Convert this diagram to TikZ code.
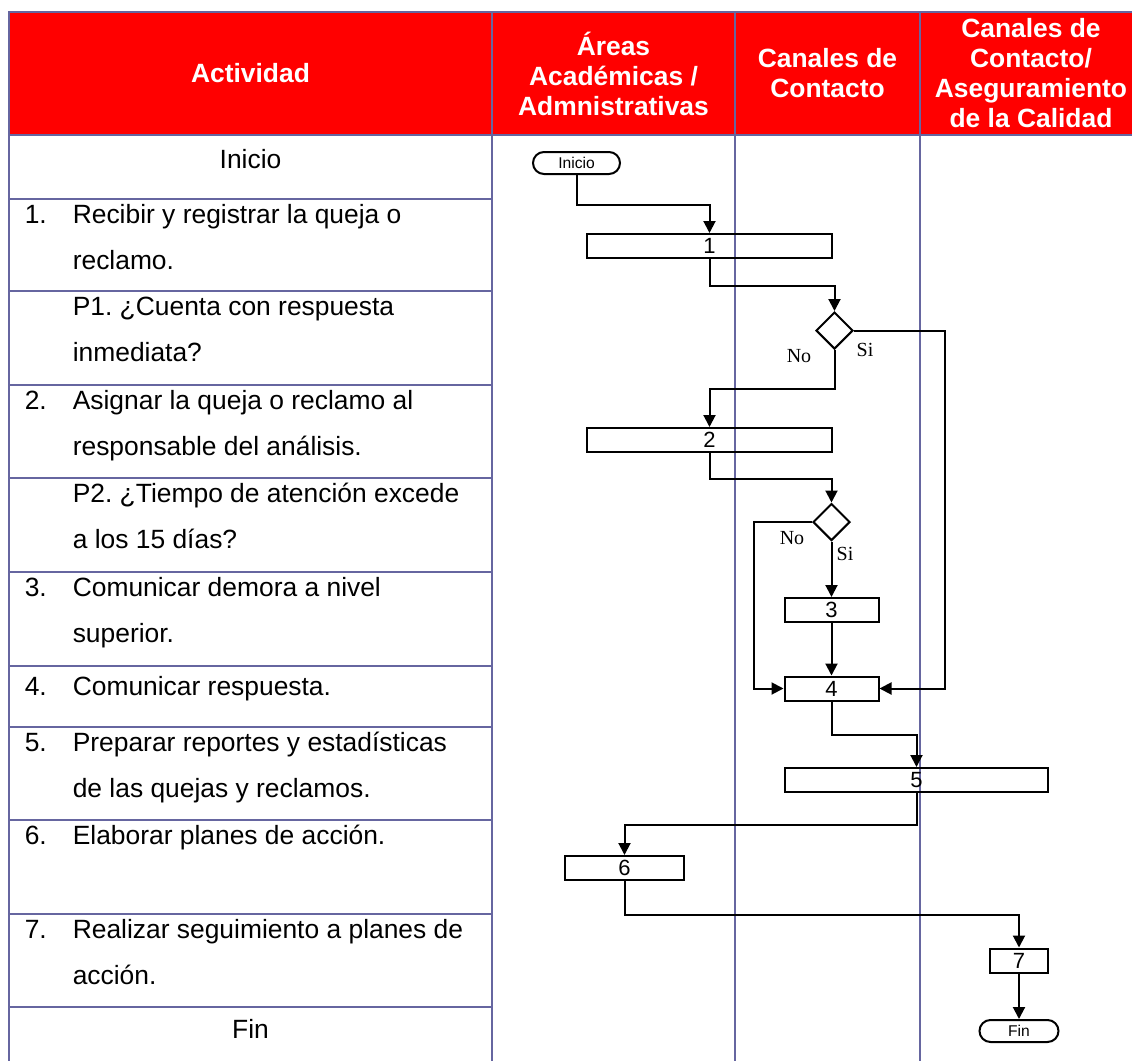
\documentclass[tikz,border=0pt]{standalone}
\usepackage{fontspec}
\setmainfont{Liberation Sans}
\newfontfamily\serifont{Liberation Serif}
\usetikzlibrary{arrows.meta,positioning,shapes.geometric}

\definecolor{rejilla}{RGB}{102,102,160}
\definecolor{rojo}{RGB}{255,0,0}

\tikzset{
  caja/.style={draw, line width=1pt, inner sep=0pt, minimum height=12pt, font=\fontsize{11}{12}\selectfont},
  term/.style={caja, rounded corners=5.5pt, minimum height=11pt, font=\fontsize{7.8}{9}\selectfont},
  rombo/.style={draw, diamond, line width=1pt, inner sep=0pt, minimum width=18.5pt, minimum height=18.5pt},
  flecha/.style={-{Triangle[length=6pt,width=6pt]}, line width=1pt},
  rama/.style={font=\serifont\fontsize{10}{12}\selectfont, inner sep=0pt},
  cabeza/.style={text=white, font=\bfseries\fontsize{13.2}{15}\selectfont, align=center},
  texto/.style={anchor=base west, inner sep=0pt, font=\fontsize{13.2}{15}\selectfont},
}

\begin{document}
\frenchspacing
\begin{tikzpicture}[x=0.5pt, y=-0.5pt, line width=0.8pt]
    \useasboundingbox (0,0) rectangle (1132,1061);
    \clip (0,0) rectangle (1132,1061);

    \def\Top{12}     % top border
    \def\Head{135}   % bottom of header
    \def\Bot{1075}   % table runs past the page
    \def\ColA{492}
    \def\ColB{735}
    \def\ColC{920}
    \def\Right{1142}

    % header
    \fill[rojo] (9,\Top) rectangle (\Right,\Head);
    \node[cabeza] (hAct) at (250.5,73.5) {Actividad};
    \node[cabeza] (hAreas) at (613.5,73.5) {Áreas\\Académicas /\\Admnistrativas};
    \node[cabeza] (hCanal) at (827.5,73.5) {Canales de\\Contacto};
    \node[cabeza] (hCal) at (1031,73.5) {Canales de\\Contacto/\\Aseguramiento\\de la Calidad};

    % grid
    \draw[rejilla] (9,\Top) rectangle (\Right,\Bot);
    \draw[rejilla] (9,\Head) -- (\Right,\Head);
    \foreach \X in {\ColA,\ColB,\ColC}
      \draw[rejilla] (\X,\Top) -- (\X,\Bot);
    \foreach \Y in {199,291,385,478,572,666,727,820,914,1007}
      \draw[rejilla] (9,\Y) -- (\ColA,\Y);

    % activity column
    \node[texto, anchor=base] (tIni) at (250.5,168) {Inicio};
    \node[texto, anchor=base] (tFin) at (250.5,1038) {Fin};
    \foreach \Y/\N in {223/1,409/2,596/3,695/4,751/5,844/6,938/7}
      \node[texto] (n\N) at (24,\Y) {\N.};
    \foreach \Y/\T [count=\i] in {223/Recibir y registrar la queja o, 269/reclamo.,
        315/P1. ¿Cuenta con respuesta, 361/inmediata?,
        409/Asignar la queja o reclamo al, 455/responsable del análisis.,
        502/P2. ¿Tiempo de atención excede, 548/a los 15 días?,
        596/Comunicar demora a nivel, 642/superior.,
        695/Comunicar respuesta.,
        751/Preparar reportes y estadísticas, 797/de las quejas y reclamos.,
        844/Elaborar planes de acción.,
        938/Realizar seguimiento a planes de, 984/acción.}
      \node[texto] (t\i) at (72,\Y) {\T};

    % flow
    \node[term, minimum width=43.5pt] (ini) at (576.5,163) {Inicio};
    \node[caja, minimum width=122.5pt] (p1) at (709.5,246) {1};
    \node[rombo] (q1) at (834.5,330.5) {};
    \node[caja, minimum width=122.5pt] (p2) at (709.5,440) {2};
    \node[rombo] (q2) at (831.5,522) {};
    \node[caja, minimum width=47pt] (p3) at (831.5,610) {3};
    \node[caja, minimum width=47pt] (p4) at (831.5,688.5) {4};
    \node[caja, minimum width=131.5pt] (p5) at (916.5,780) {5};
    \node[caja, minimum width=59.5pt] (p6) at (624.5,868) {6};
    \node[caja, minimum width=29pt] (p7) at (1019,960.5) {7};
    \node[term, minimum width=39.5pt] (fin) at (1019,1031) {Fin};

    \node[rama] (no1) at (799,356) {No};
    \node[rama] (si1) at (865,350) {Si};
    \node[rama] (no2) at (792,538) {No};
    \node[rama] (si2) at (845,554) {Si};

    \draw[flecha] (ini.south) -- ++(0,30) -| (p1.north);
    \draw[flecha] (p1.south) -- ++(0,27) -| (q1.north);
    \draw[flecha] (q1.south) -- ++(0,39) -| (p2.north);
    \draw[flecha] (q1.east) -- ++(91,0) |- (p4.east);
    \draw[flecha] (p2.south) -- ++(0,26) -| (q2.north);
    \draw[flecha] (q2.west) -- ++(-58,0) |- (p4.west);
    \draw[flecha] (q2.south) -- (p3.north);
    \draw[flecha] (p3.south) -- (p4.north);
    \draw[flecha] (p4.south) -- ++(0,33) -| (p5.north);
    \draw[flecha] (p5.south) -- ++(0,32) -| (p6.north);
    \draw[flecha] (p6.south) -- ++(0,34) -| (p7.north);
    \draw[flecha] (p7.south) -- (fin.north);
  \end{tikzpicture}
\end{document}
